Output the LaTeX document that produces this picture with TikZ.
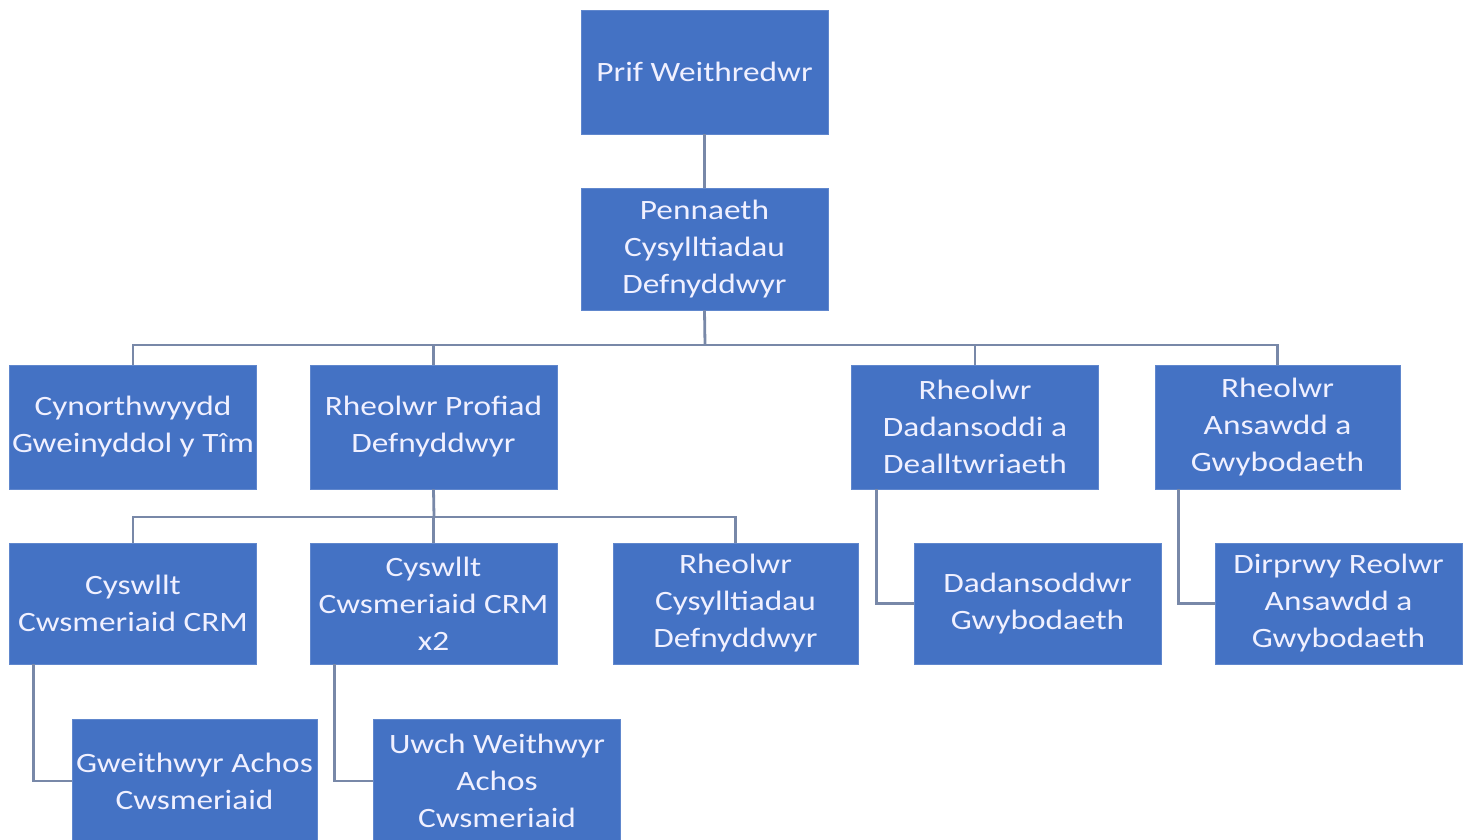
\documentclass[tikz,border=0pt]{standalone}
\usepackage{fontspec}
\setmainfont{Carlito}
\newfontfamily\widefont[FakeStretch=1.19]{Carlito}
\usetikzlibrary{calc}
\definecolor{boxblue}{HTML}{4472C4}
\definecolor{linec}{HTML}{7888A8}
\tikzset{
  box/.style={rectangle, fill=boxblue, draw=boxblue!85!white, line width=0.6pt, text=white!94!blue,
    minimum width=247pt, minimum height=124pt, inner sep=0pt, align=center,
    font=\widefont\fontsize{28}{37}\selectfont},
  conn/.style={draw=linec, line width=2.8pt}
}
\begin{document}
\begin{tikzpicture}[x=1pt,y=-1pt]
\useasboundingbox (0,0) rectangle (1470,839);
\fill[white] (0,0) rectangle (1470,839);
% level 1-2
\node[box] (prif) at (704.5,72) {Prif Weithredwr};
\node[box, minimum height=122pt] (pen) at (704.5,249) {Pennaeth\\Cysylltiadau\\Defnyddwyr};
% level 3
\node[box] (cyn) at (133,427) {Cynorthwyydd\\Gweinyddol y Tîm};
\node[box] (rpd) at (433.5,427) {Rheolwr Profiad\\Defnyddwyr};
\node[box] (rdd) at (975,427) {Rheolwr\\Dadansoddi a\\Dealltwriaeth};
\node[box, minimum width=245pt] (ran) at (1277.5,427) {Rheolwr\\Ansawdd a\\Gwybodaeth};
% level 4
\node[box, minimum height=121pt] (crm) at (133,603.5) {Cyswllt\\Cwsmeriaid CRM};
\node[box, minimum height=121pt] (crm2) at (433.5,603.5) {Cyswllt\\Cwsmeriaid CRM\\x2};
\node[box, minimum width=245pt, minimum height=121pt] (rcd) at (735.5,603.5) {Rheolwr\\Cysylltiadau\\Defnyddwyr};
\node[box, minimum height=121pt] (dad) at (1037.5,603.5) {Dadansoddwr\\Gwybodaeth};
\node[box, minimum height=121pt] (dir) at (1338.5,603.5) {Dirprwy Reolwr\\Ansawdd a\\Gwybodaeth};
% level 5
\node[box, minimum width=245pt] (gwe) at (194.5,781) {Gweithwyr Achos\\Cwsmeriaid};
\node[box] (uwc) at (497,781) {Uwch Weithwyr\\Achos\\Cwsmeriaid};
% connectors
\coordinate (b1) at (705,345);
\coordinate (b2) at (434,517);
\draw[conn] (prif.south) -- (pen.north);
\draw[conn] (pen.south) -- (b1);
\draw[conn] (cyn.north) -- (cyn.north |- b1) -- (ran.north |- b1) -- (ran.north);
\draw[conn] (rpd.north) -- (rpd.north |- b1);
\draw[conn] (rdd.north) -- (rdd.north |- b1);
\draw[conn] (rpd.south) -- (b2);
\draw[conn] (crm.north) -- (crm.north |- b2) -- (rcd.north |- b2) -- (rcd.north);
\draw[conn] (crm2.north) -- (crm2.north |- b2);
\draw[conn] ($(rdd.south west)+(25,0)$) |- (dad.west);
\draw[conn] ($(ran.south west)+(24,0)$) |- (dir.west);
\draw[conn] ($(crm.south west)+(24,0)$) |- (gwe.west);
\draw[conn] ($(crm2.south west)+(25,0)$) |- (uwc.west);
\end{tikzpicture}
\end{document}
